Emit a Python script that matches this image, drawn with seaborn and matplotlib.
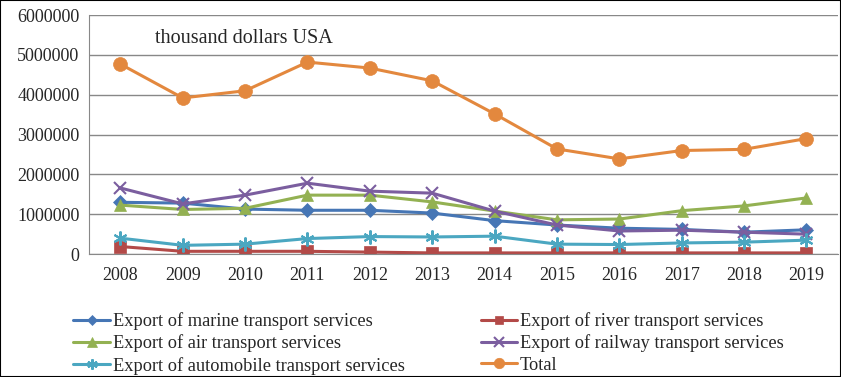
import pandas as pd
import seaborn as sns
import matplotlib.pyplot as plt
from matplotlib.patches import Rectangle

years = ['2008', '2009', '2010', '2011', '2012', '2013', '2014', '2015', '2016', '2017', '2018', '2019']
marine = [1300000, 1280000, 1130000, 1100000, 1100000, 1030000, 840000, 730000, 650000, 620000, 550000, 610000]
river = [190000, 70000, 70000, 70000, 50000, 30000, 30000, 30000, 30000, 30000, 30000, 30000]
air = [1230000, 1120000, 1150000, 1480000, 1480000, 1310000, 1080000, 860000, 880000, 1090000, 1210000, 1410000]
railway = [1660000, 1260000, 1480000, 1780000, 1580000, 1530000, 1080000, 730000, 580000, 600000, 550000, 500000]
automobile = [400000, 220000, 250000, 390000, 440000, 430000, 450000, 250000, 240000, 280000, 300000, 350000]
total = [4770000, 3920000, 4100000, 4820000, 4670000, 4350000, 3520000, 2640000, 2390000, 2600000, 2630000, 2900000]

names = ['Export of marine transport services', 'Export of river transport services',
         'Export of air transport services', 'Export of railway transport services',
         'Export of automobile transport services', 'Total']
series = [marine, river, air, railway, automobile, total]
colors = ['#4676B5', '#B34A48', '#93B152', '#7B5E9F', '#4BA7C1', '#E3883E']
markers = ['D', 's', '^', 'x', (6, 2, 0), 'o']
sizes = [7, 8, 9, 9, 10, 10]

rows = []
for n, vals in zip(names, series):
    for i, v in enumerate(vals):
        rows.append({'series': n, 'pos': i, 'value': v})
df = pd.DataFrame(rows)

sns.set_style('white')
plt.rcParams['font.family'] = ['Liberation Serif', 'DejaVu Serif']

fig = plt.figure(figsize=(8.41, 3.77), dpi=100)
ax = fig.add_axes([0.106, 0.326, 0.89, 0.634])

for n, c, m, s in zip(names, colors, markers, sizes):
    sns.lineplot(data=df[df['series'] == n], x='pos', y='value', color=c, marker=m,
                 markersize=s, markeredgecolor=c, markeredgewidth=1.5 if m in ('x', (6, 2, 0)) else 0.5,
                 linewidth=2.2, ax=ax, label=n)

ax.set_xlim(-0.5, 11.5)
ax.set_ylim(0, 6000000)
ax.set_yticks(range(0, 6000001, 1000000))
ax.set_yticklabels([str(v) for v in range(0, 6000001, 1000000)], fontsize=13)
ax.set_xticks(range(12))
ax.set_xticklabels(years, fontsize=13)
ax.set_xticks([i - 0.5 for i in range(13)], minor=True)
ax.tick_params(axis='x', which='major', length=0, pad=9)
ax.tick_params(axis='x', which='minor', length=5, color='#888888', direction='out')
ax.tick_params(axis='y', length=5, color='#888888', direction='out', pad=2)
ax.yaxis.grid(True, color='#888888', linewidth=1)
ax.set_axisbelow(True)
for side in ['top', 'right']:
    ax.spines[side].set_visible(False)
ax.spines['left'].set_color('#888888')
ax.spines['bottom'].set_color('#888888')
ax.set_xlabel('')
ax.set_ylabel('')
ax.text(0.088, 0.9, 'thousand dollars USA', transform=ax.transAxes, fontsize=14.5, va='center')

h, l = ax.get_legend_handles_labels()
order = [0, 2, 4, 1, 3, 5]
ax.legend([h[i] for i in order], [l[i] for i in order], ncol=2, frameon=False,
          loc='upper left', bbox_to_anchor=(0.087, 0.172), bbox_transform=fig.transFigure,
          fontsize=13.2, columnspacing=4.15, handlelength=2.0, handletextpad=0.15,
          labelspacing=0.24, borderpad=0, borderaxespad=0, markerscale=0.75)

fig.patches.append(Rectangle((0, 0), 1, 1, transform=fig.transFigure, fill=False,
                             edgecolor='black', linewidth=1.5))
fig.savefig('out.png', dpi=100)
